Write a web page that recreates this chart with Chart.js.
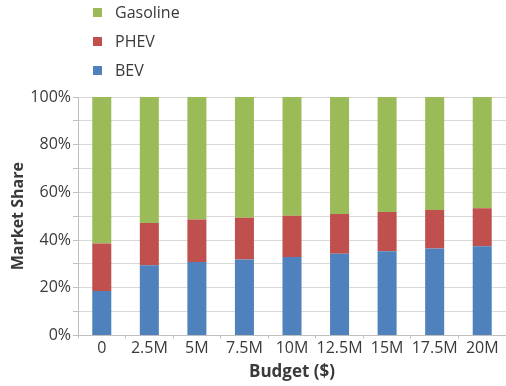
<!DOCTYPE html>
<html>
<head>
<meta charset="utf-8">
<script src="https://cdn.jsdelivr.net/npm/chart.js@4"></script>
<style>
  html, body { margin: 0; padding: 0; background: #ffffff; }
  #wrap { position: relative; width: 506px; height: 386px; }
  #legend { position: absolute; left: 93px; top: 0px; font-family: "Open Sans", sans-serif; font-size: 16px; color: #3a3a3a; }
  #legend .item { position: absolute; left: 0; height: 20px; line-height: 20px; white-space: nowrap; }
  #legend .sw { display: inline-block; width: 9px; height: 9px; margin-right: 13px; vertical-align: middle; position: relative; top: -1px; }
</style>
</head>
<body>
<div id="wrap">
  <canvas id="c" width="506" height="386"></canvas>
  <div id="legend"></div>
</div>
<script>
const categories = ["0", "2.5M", "5M", "7.5M", "10M", "12.5M", "15M", "17.5M", "20M"];
const bevShare = [18.6, 29.4, 30.8, 31.8, 32.9, 34.3, 35.3, 36.4, 37.4];
const phevShare = [19.9, 17.8, 17.8, 17.6, 17.3, 16.6, 16.5, 16.2, 15.9];
const gasolineShare = [61.5, 52.8, 51.4, 50.6, 49.8, 49.1, 48.2, 47.4, 46.7];
const yTickLabels = ["0%", "20%", "40%", "60%", "80%", "100%"];

const seriesNames = ["BEV", "PHEV", "Gasoline"];
const seriesColors = ["#4f81bd", "#c0504d", "#9bbb59"];
const seriesData = [bevShare, phevShare, gasolineShare];

const font = "'Open Sans', sans-serif";

const chart = new Chart(document.getElementById('c'), {
  type: 'bar',
  data: {
    labels: categories,
    datasets: seriesData.map((d, i) => ({
      label: seriesNames[i],
      data: d,
      backgroundColor: seriesColors[i],
      borderWidth: 0,
      categoryPercentage: 1.0,
      barPercentage: 0.4
    }))
  },
  options: {
    responsive: false,
    animation: false,
    layout: { padding: { top: 97, right: 0, bottom: 4, left: 0 } },
    plugins: {
      legend: { display: false },
      tooltip: { enabled: false }
    },
    scales: {
      x: {
        stacked: true,
        grid: { display: true, drawOnChartArea: false, drawTicks: true, tickLength: 3, color: '#bfbfbf', offset: true },
        border: { display: true, color: '#bfbfbf' },
        ticks: { color: '#3a3a3a', font: { family: font, size: 16 }, padding: 0, maxRotation: 0, autoSkip: false },
        title: { display: true, text: 'Budget ($)', color: '#3a3a3a', font: { family: font, size: 17, weight: 'bold' }, padding: { top: 4, bottom: 0 } }
      },
      y: {
        stacked: true,
        min: 0, max: 100,
        afterFit: (s) => { s.width = 78; },
        grid: { color: '#d9d9d9', drawTicks: true, tickLength: 5, tickColor: '#bfbfbf' },
        border: { display: true, color: '#bfbfbf' },
        ticks: {
          stepSize: 10,
          color: '#3a3a3a',
          font: { family: font, size: 16 },
          padding: 2,
          callback: (v) => {
            const lbl = v + '%';
            return yTickLabels.includes(lbl) ? lbl : '';
          }
        },
        title: { display: true, text: 'Market Share', color: '#3a3a3a', font: { family: font, size: 16, weight: 'bold' }, padding: { top: 9, bottom: 2 } }
      }
    }
  }
});

// HTML legend (reverse order, vertical), built from the chart's datasets
const legendEl = document.getElementById('legend');
const items = chart.data.datasets.map((ds) => ({ label: ds.label, color: ds.backgroundColor })).reverse();
items.forEach((it, i) => {
  const div = document.createElement('div');
  div.className = 'item';
  div.style.top = (2 + i * 29) + 'px';
  const sw = document.createElement('span');
  sw.className = 'sw';
  sw.style.background = it.color;
  div.appendChild(sw);
  div.appendChild(document.createTextNode(it.label));
  legendEl.appendChild(div);
});
</script>
</body>
</html>
